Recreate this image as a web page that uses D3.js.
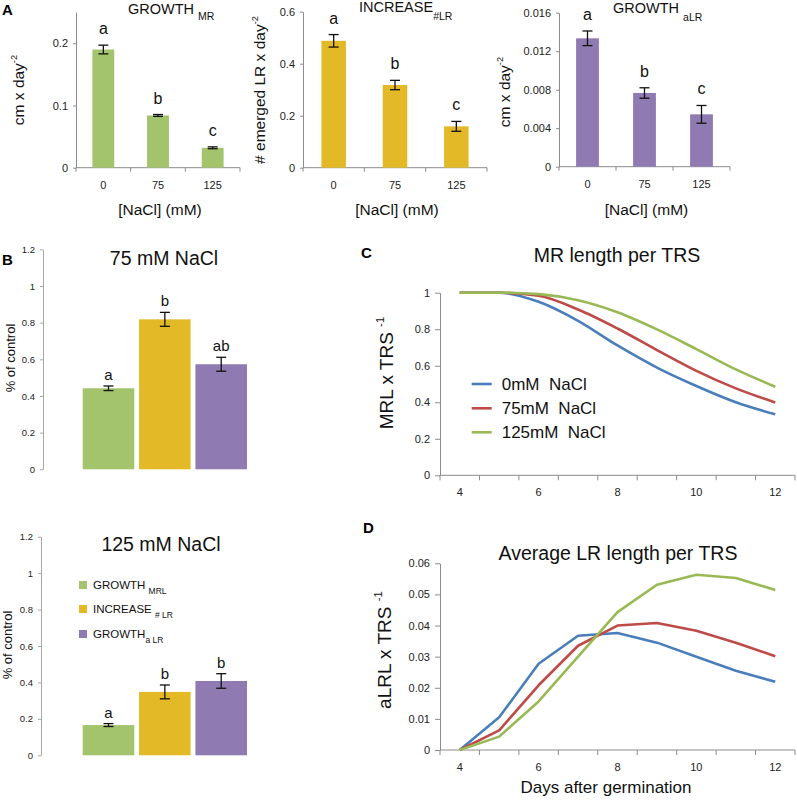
<!DOCTYPE html>
<html><head><meta charset="utf-8">
<script src="https://cdn.jsdelivr.net/npm/d3@7"></script>
<style>
body{margin:0;background:#fff}
svg{font-family:"Liberation Sans",Arial,sans-serif}
text{white-space:pre}
</style>
</head><body><svg id="c" width="797" height="802"></svg>
<script>
// ---------- data ----------
const naclLevels = ["0", "75", "125"];
const growthMR = [0.190, 0.084, 0.032];
const growthMRErr = [0.007, 0.0015, 0.0015];
const increaseLR = [0.488, 0.318, 0.159];
const increaseLRErr = [0.024, 0.018, 0.019];
const growthALR = [0.01334, 0.00766, 0.00544];
const growthALRErr = [0.00076, 0.00054, 0.00092];
const lettersA = ["a", "b", "c"];

const measures = ["GROWTH_MRL", "INCREASE_#LR", "GROWTH_aLR"];
const pct75 = [0.442, 0.818, 0.573];
const pct75Err = [0.0125, 0.038, 0.038];
const letters75 = ["a", "b", "ab"];
const pct125 = [0.166, 0.348, 0.408];
const pct125Err = [0.008, 0.038, 0.040];
const letters125 = ["a", "b", "b"];

const days = [4, 5, 6, 7, 8, 9, 10, 11, 12];
const dayTickLabels = [4, 6, 8, 10, 12];
const seriesNames = ["0mM  NaCl", "75mM  NaCl", "125mM  NaCl"];
const mrl0 = [1, 1, 0.95, 0.846, 0.711, 0.59, 0.489, 0.40, 0.334];
const mrl75 = [1, 1, 0.983, 0.908, 0.804, 0.686, 0.572, 0.476, 0.399];
const mrl125 = [1, 1, 0.992, 0.959, 0.893, 0.799, 0.691, 0.58, 0.485];
const alrl0 = [0, 0.0105, 0.0277, 0.0367, 0.0376, 0.0345, 0.030, 0.0255, 0.0219];
const alrl75 = [0, 0.0063, 0.0208, 0.0335, 0.040, 0.0408, 0.0383, 0.0345, 0.0301];
const alrl125 = [0, 0.0043, 0.0156, 0.030, 0.0443, 0.0531, 0.0563, 0.0553, 0.0514];

// ---------- styles ----------
const barColors = ["#a3c46c", "#e4b927", "#8f7bb1"];
const lineColors = ["#4a7ebb", "#be4b48", "#98b954"];
const axisColor = "#8c8c8c";
const fmt = d => String(+(+d).toFixed(4));

const svg = d3.select("#c");

function styleAxis(g, fs) {
  g.selectAll("path,line").attr("stroke", axisColor);
  g.selectAll("text").attr("fill", "#222").style("font-size", fs + "px").style("font-family", "Liberation Sans, Arial, sans-serif");
}

function subText(x, y, main, sub, size, subSize, dy, anchor) {
  const t = svg.append("text").attr("x", x).attr("y", y).attr("text-anchor", anchor || "start")
    .style("font-size", size + "px").attr("fill", "#111");
  t.append("tspan").text(main);
  t.append("tspan").attr("dy", dy).style("font-size", subSize + "px").text(sub);
  return t;
}

function vLabel(x, y, main, sup, size) {
  const t = svg.append("text").attr("transform", `translate(${x},${y}) rotate(-90)`)
    .attr("text-anchor", "middle").style("font-size", size + "px").attr("fill", "#111");
  t.append("tspan").text(main);
  if (sup) t.append("tspan").attr("dy", -size * 0.45).style("font-size", (size * 0.6) + "px").text(sup);
  return t;
}

// ---------- Panel A bar charts ----------
function barA(o) {
  const x = d3.scaleBand().domain(naclLevels).range([o.x0, o.x1]);
  const y = d3.scaleLinear().domain([0, o.max]).range([o.y0, o.y1]);
  const g = svg.append("g");
  const ya = g.append("g").attr("transform", `translate(${o.x0},0)`)
    .call(d3.axisLeft(y).tickValues(o.ticks).tickSize(3).tickSizeOuter(0).tickPadding(5).tickFormat(fmt));
  styleAxis(ya, 11);
  // x axis
  g.append("line").attr("x1", o.x0).attr("x2", o.x1).attr("y1", o.y0).attr("y2", o.y0).attr("stroke", axisColor);
  const bounds = naclLevels.map(d => x(d)).concat([o.x1]);
  g.selectAll(".xt").data(bounds).enter().append("line")
    .attr("x1", d => d).attr("x2", d => d).attr("y1", o.y0).attr("y2", o.y0 + 4).attr("stroke", axisColor);
  g.selectAll(".xl").data(naclLevels).enter().append("text")
    .attr("x", d => x(d) + x.bandwidth() / 2).attr("y", o.y0 + 21).attr("text-anchor", "middle")
    .style("font-size", "11px").attr("fill", "#222").text(d => d);
  const bw = x.bandwidth();
  const data = naclLevels.map((d, i) => ({ k: d, v: o.values[i], e: o.errs[i], l: o.letters[i] }));
  g.selectAll(".bar").data(data).enter().append("rect")
    .attr("x", d => x(d.k) + bw * 0.3).attr("width", bw * 0.4)
    .attr("y", d => y(d.v)).attr("height", d => y(0) - y(d.v)).attr("fill", o.color);
  const cx = d => x(d.k) + bw / 2;
  g.selectAll(".eb").data(data).enter().append("line")
    .attr("x1", cx).attr("x2", cx).attr("y1", d => y(d.v - d.e)).attr("y2", d => y(d.v + d.e))
    .attr("stroke", "#111").attr("stroke-width", 1.3);
  [1, -1].forEach(s => {
    g.selectAll(".cap").data(data).enter().append("line")
      .attr("x1", d => cx(d) - 5).attr("x2", d => cx(d) + 5)
      .attr("y1", d => y(d.v + s * d.e)).attr("y2", d => y(d.v + s * d.e))
      .attr("stroke", "#111").attr("stroke-width", 1.3);
  });
  g.selectAll(".lt").data(data).enter().append("text")
    .attr("x", cx).attr("y", d => y(d.v + d.e) - 11).attr("text-anchor", "middle")
    .style("font-size", "16px").attr("fill", "#111").text(d => d.l);
  svg.append("text").attr("x", (o.x0 + o.x1) / 2 + 2).attr("y", 215).attr("text-anchor", "middle")
    .style("font-size", "15.5px").attr("fill", "#111").text("[NaCl] (mM)");
}

barA({ x0: 76, x1: 240, y0: 167.7, y1: 12.2, max: 0.25, ticks: [0, 0.1, 0.2],
  values: growthMR, errs: growthMRErr, letters: lettersA, color: barColors[0] });
barA({ x0: 303, x1: 487, y0: 167.7, y1: 11.7, max: 0.6, ticks: [0, 0.2, 0.4, 0.6],
  values: increaseLR, errs: increaseLRErr, letters: lettersA, color: barColors[1] });
barA({ x0: 559, x1: 730, y0: 166.7, y1: 12.7, max: 0.016, ticks: [0, 0.004, 0.008, 0.012, 0.016],
  values: growthALR, errs: growthALRErr, letters: lettersA, color: barColors[2] });

subText(128, 14, "GROWTH ", "MR", 14.5, 10.5, 6);
subText(359, 12, "INCREASE", "#LR", 14.5, 10.5, 8);
subText(613, 13, "GROWTH ", "aLR", 14.5, 10.5, 8);
vLabel(24, 90, "cm x day", "-2", 15.5);
vLabel(265, 90, "# emerged LR x day", "-2", 15.5);
vLabel(510, 92, "cm x day", "-2", 15.5);

// ---------- Panel B ----------
function barB(o) {
  const x = d3.scaleBand().domain(measures).range([82.7, 247]).paddingInner(0.085);
  const y = d3.scaleLinear().domain([0, 1.2]).range([o.y0, o.y1]);
  const g = svg.append("g");
  const ya = g.append("g").attr("transform", `translate(${o.ax},0)`)
    .call(d3.axisLeft(y).tickValues([0, 0.2, 0.4, 0.6, 0.8, 1, 1.2]).tickSize(3).tickSizeOuter(0).tickPadding(5).tickFormat(fmt));
  styleAxis(ya, 9.5);
  ya.selectAll("path,line").attr("stroke", "#a8a8a8");
  const data = measures.map((m, i) => ({ k: m, v: o.values[i], e: o.errs[i], l: o.letters[i], c: barColors[i] }));
  const bw = x.bandwidth();
  g.selectAll(".bar").data(data).enter().append("rect")
    .attr("x", d => x(d.k)).attr("width", bw).attr("y", d => y(d.v)).attr("height", d => y(0) - y(d.v))
    .attr("fill", d => d.c);
  const cx = d => x(d.k) + bw / 2;
  g.selectAll(".eb").data(data).enter().append("line")
    .attr("x1", cx).attr("x2", cx).attr("y1", d => y(d.v - d.e)).attr("y2", d => y(d.v + d.e))
    .attr("stroke", "#111").attr("stroke-width", 1.3);
  [1, -1].forEach(s => {
    g.selectAll(".cap").data(data).enter().append("line")
      .attr("x1", d => cx(d) - 5).attr("x2", d => cx(d) + 5)
      .attr("y1", d => y(d.v + s * d.e)).attr("y2", d => y(d.v + s * d.e))
      .attr("stroke", "#111").attr("stroke-width", 1.3);
  });
  g.selectAll(".lt").data(data).enter().append("text")
    .attr("x", cx).attr("y", d => y(d.v + d.e) - 6).attr("text-anchor", "middle")
    .style("font-size", "15px").attr("fill", "#111").text(d => d.l);
  svg.append("text").attr("x", o.tx).attr("y", o.ty).attr("text-anchor", "middle")
    .style("font-size", "19.5px").attr("fill", "#111").text(o.title);
  vLabel(o.lx, o.ly, "% of control", null, 13);
}
barB({ y0: 469.3, y1: 249.3, ax: 43, values: pct75, errs: pct75Err, letters: letters75,
  title: "75 mM NaCl", tx: 164, ty: 265, lx: 15, ly: 358 });
barB({ y0: 755.3, y1: 536.7, ax: 41, values: pct125, errs: pct125Err, letters: letters125,
  title: "125 mM NaCl", tx: 161, ty: 551, lx: 12, ly: 645 });

// legend B
const legRows = [585, 609, 634];
const legMain = ["GROWTH ", "INCREASE ", "GROWTH"];
const legSub = ["MRL", "# LR", "a LR"];
measures.forEach((m, i) => {
  svg.append("rect").attr("x", 79).attr("y", legRows[i] - 4).attr("width", 8).attr("height", 8).attr("fill", barColors[i]);
  subText(93, legRows[i] + 4, legMain[i], legSub[i], 11.5, 8.5, 5);
});

// ---------- Panels C, D line charts ----------
function lineChart(o) {
  const x = d3.scaleBand().domain(days).range([440, 795]);
  const y = d3.scaleLinear().domain([0, o.max]).range([o.y0, o.y1]);
  const g = svg.append("g");
  const ya = g.append("g").attr("transform", "translate(440,0)")
    .call(d3.axisLeft(y).tickValues(o.ticks).tickSize(5).tickSizeOuter(0).tickPadding(5).tickFormat(fmt));
  styleAxis(ya, 11);
  g.append("line").attr("x1", 440).attr("x2", 795).attr("y1", o.y0).attr("y2", o.y0).attr("stroke", axisColor);
  const bounds = days.map(d => x(d)).concat([795]);
  g.selectAll(".xt").data(bounds).enter().append("line")
    .attr("x1", d => d).attr("x2", d => d).attr("y1", o.y0).attr("y2", o.y0 + 5).attr("stroke", axisColor);
  g.selectAll(".xl").data(dayTickLabels).enter().append("text")
    .attr("x", d => x(d) + x.bandwidth() / 2).attr("y", o.y0 + 21).attr("text-anchor", "middle")
    .style("font-size", "11px").attr("fill", "#222").text(d => d);
  const line = d3.line().x((d, i) => x(days[i]) + x.bandwidth() / 2).y(d => y(d)).curve(o.curve);
  o.series.forEach((s, i) => {
    g.append("path").datum(s).attr("d", line).attr("fill", "none")
      .attr("stroke", lineColors[i]).attr("stroke-width", 2.6).attr("stroke-linejoin", "round");
  });
  svg.append("text").attr("x", o.tx).attr("y", o.ty).attr("text-anchor", "middle")
    .style("font-size", "19.5px").attr("fill", "#111").text(o.title);
  vLabel(o.lx, o.ly, o.ylab, "-1", 19);
}
lineChart({ y0: 475.3, y1: 292.7, max: 1, ticks: [0, 0.2, 0.4, 0.6, 0.8, 1],
  series: [mrl0, mrl75, mrl125], curve: d3.curveMonotoneX,
  title: "MR length per TRS", tx: 617, ty: 262, lx: 393, ly: 373, ylab: "MRL x TRS " });
lineChart({ y0: 750, y1: 563.3, max: 0.06, ticks: [0, 0.01, 0.02, 0.03, 0.04, 0.05, 0.06],
  series: [alrl0, alrl75, alrl125], curve: d3.curveLinear,
  title: "Average LR length per TRS", tx: 618, ty: 560, lx: 391, ly: 650, ylab: "aLRL x TRS " });

// legend C
const legCRows = [384, 408.3, 432.3];
seriesNames.forEach((n, i) => {
  svg.append("line").attr("x1", 471.7).attr("x2", 491.7).attr("y1", legCRows[i]).attr("y2", legCRows[i])
    .attr("stroke", lineColors[i]).attr("stroke-width", 2.6);
  svg.append("text").attr("x", 501.7).attr("y", legCRows[i] + 6).style("font-size", "17px").attr("fill", "#111").text(n);
});

svg.append("text").attr("x", 606).attr("y", 793).attr("text-anchor", "middle")
  .style("font-size", "17px").attr("fill", "#111").text("Days after germination");

// panel letters
[["A", 2, 15], ["B", 2, 265], ["C", 361, 258], ["D", 363, 533]].forEach(([t, x, yy]) => {
  svg.append("text").attr("x", x).attr("y", yy).style("font-size", "15px").style("font-weight", "bold").attr("fill", "#000").text(t);
});
</script>
</body></html>
